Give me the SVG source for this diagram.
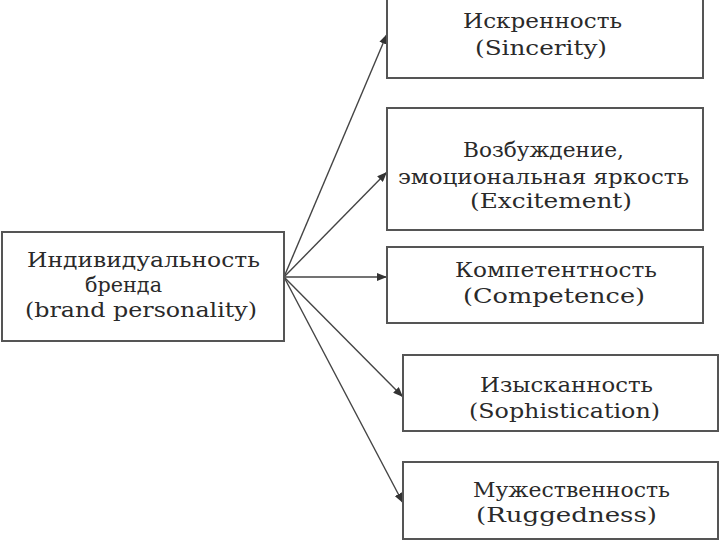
<svg xmlns="http://www.w3.org/2000/svg" width="720" height="540" viewBox="0 0 720 540">
<style>
.box{fill:#fff;stroke:#555;stroke-width:2}
.t{font-family:"DejaVu Serif","Liberation Serif",serif;font-size:20px;fill:#2a2a2a}
.c{stroke:#444;stroke-width:1.4;fill:none;marker-end:url(#ah)}
</style>
<defs>
<marker id="ah" viewBox="0 0 10 8" refX="10" refY="4" markerWidth="10" markerHeight="8" markerUnits="userSpaceOnUse" orient="auto">
<path d="M0,0 L10,4 L0,8 Z" fill="#333"/>
</marker>
</defs>
<rect width="720" height="540" fill="#fff"/>
<g id="connectors">
<line class="c" x1="284" y1="277" x2="387" y2="34"/>
<line class="c" x1="284" y1="277" x2="387" y2="172"/>
<line class="c" x1="284" y1="277" x2="387" y2="277"/>
<line class="c" x1="284" y1="277" x2="403" y2="397"/>
<line class="c" x1="284" y1="277" x2="403" y2="503"/>
</g>
<g id="brand">
<rect class="box" x="2" y="232" width="282" height="109"/>
<text class="t" x="27" y="267" textLength="233" lengthAdjust="spacingAndGlyphs">Индивидуальность</text>
<text class="t" x="85" y="292" textLength="77" lengthAdjust="spacingAndGlyphs">бренда</text>
<text class="t" x="25" y="317" textLength="232" lengthAdjust="spacingAndGlyphs">(brand personality)</text>
</g>
<g id="sincerity">
<rect class="box" x="387" y="-2" width="316" height="80"/>
<text class="t" x="463" y="28" textLength="159" lengthAdjust="spacingAndGlyphs">Искренность</text>
<text class="t" x="475" y="55" textLength="132" lengthAdjust="spacingAndGlyphs">(Sincerity)</text>
</g>
<g id="excitement">
<rect class="box" x="387" y="108" width="316" height="122"/>
<text class="t" x="463" y="157" textLength="161" lengthAdjust="spacingAndGlyphs">Возбуждение,</text>
<text class="t" x="398" y="184" textLength="291" lengthAdjust="spacingAndGlyphs">эмоциональная яркость</text>
<text class="t" x="470" y="208" textLength="162" lengthAdjust="spacingAndGlyphs">(Excitement)</text>
</g>
<g id="competence">
<rect class="box" x="387" y="247" width="316" height="76"/>
<text class="t" x="455" y="277" textLength="202" lengthAdjust="spacingAndGlyphs">Компетентность</text>
<text class="t" x="463" y="303" textLength="182" lengthAdjust="spacingAndGlyphs">(Competence)</text>
</g>
<g id="sophistication">
<rect class="box" x="403" y="355" width="315" height="76"/>
<text class="t" x="480" y="392" textLength="173" lengthAdjust="spacingAndGlyphs">Изысканность</text>
<text class="t" x="469" y="418" textLength="191" lengthAdjust="spacingAndGlyphs">(Sophistication)</text>
</g>
<g id="ruggedness">
<rect class="box" x="403" y="462" width="315" height="77"/>
<text class="t" x="473" y="497" textLength="197" lengthAdjust="spacingAndGlyphs">Мужественность</text>
<text class="t" x="476" y="522" textLength="181" lengthAdjust="spacingAndGlyphs">(Ruggedness)</text>
</g>
</svg>
